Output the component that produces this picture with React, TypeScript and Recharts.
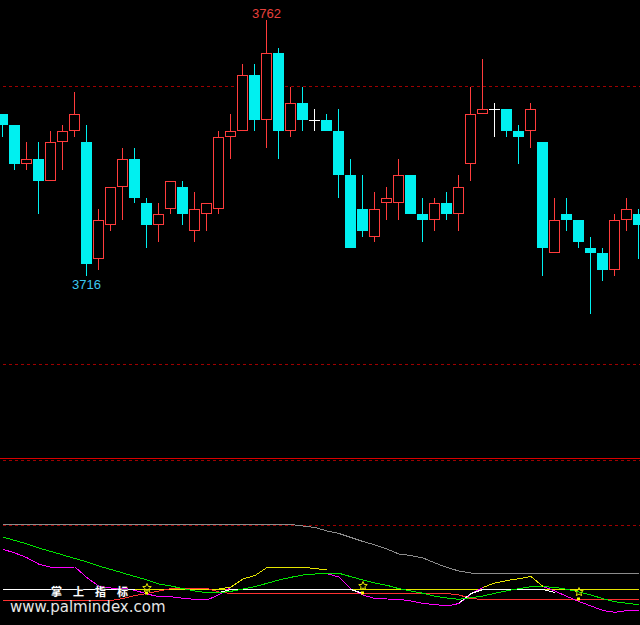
import React from 'react';
import { ComposedChart, Bar, Line, XAxis, YAxis, ReferenceLine } from 'recharts';

// ---------- Candles (price) ----------
const candleOpen = [
  3745, 3743, 3736, 3737, 3733, 3740, 3742, 3740, 3719, 3725,
  3732, 3737, 3729, 3725, 3728, 3732, 3724, 3727, 3728, 3741,
  3742, 3752, 3744, 3756, 3742, 3747, 3744, 3744, 3742, 3734,
  3728, 3723, 3729, 3729, 3734, 3727, 3726, 3729, 3727, 3736,
  3745, 3746, 3746, 3742, 3742, 3740, 3720, 3727, 3726, 3721,
  3720, 3717, 3726, 3727,
];
const candleHigh = [
  3745, 3743, 3740, 3740, 3742, 3743, 3749, 3743, 3728, 3732,
  3739, 3739, 3730, 3729, 3733, 3733, 3731, 3729, 3742, 3745,
  3754, 3754, 3762, 3757, 3750, 3750, 3746, 3745, 3746, 3737,
  3734, 3731, 3732, 3737, 3734, 3730, 3730, 3731, 3734, 3750,
  3755, 3747, 3746, 3743, 3747, 3740, 3730, 3730, 3726, 3723,
  3721, 3727, 3730, 3728,
];
const candleLow = [
  3741, 3735, 3735, 3727, 3733, 3735, 3741, 3716, 3717, 3724,
  3726, 3729, 3721, 3722, 3727, 3725, 3722, 3724, 3727, 3737,
  3742, 3742, 3739, 3737, 3741, 3742, 3742, 3742, 3730, 3721,
  3723, 3722, 3726, 3726, 3727, 3722, 3724, 3726, 3724, 3733,
  3745, 3741, 3741, 3736, 3739, 3716, 3720, 3724, 3721, 3709,
  3715, 3716, 3724, 3719,
];
const candleClose = [
  3743, 3736, 3737, 3733, 3740, 3742, 3745, 3718, 3726, 3732,
  3737, 3730, 3725, 3727, 3733, 3727, 3728, 3729, 3741, 3742,
  3752, 3744, 3756, 3742, 3747, 3744, 3744, 3742, 3734, 3721,
  3724, 3728, 3730, 3734, 3727, 3726, 3729, 3727, 3732, 3745,
  3746, 3746, 3742, 3741, 3746, 3721, 3726, 3726, 3722, 3720,
  3717, 3726, 3728, 3725,
];
const HIGH_MARK_INDEX = 22;
const LOW_MARK_INDEX = 7;
const priceLevels = [3750, 3700];

// ---------- Indicator panel ----------
const N = null;
const grayLine = [
  100.5, 100.5, 100.5, 100.5, 100.5, 100.5, 100.5, 100.5, 100.5, 100.5,
  100.5, 100.5, 100.5, 100.5, 100.5, 100.5, 100.5, 100.5, 100.5, 100.5,
  100.5, 100.5, 100.5, 100.5, 100.5, 99, 97.5, 94, 91.5, 87.5,
  83.5, 80, 76, 71, 69.5, 67, 62, 57.5, 54, 52,
  52, 52, 52, 52, 52, 52, 52, 52, 52, 52,
  52, 52, 52, 52,
];
const greenLine = [
  88, 84.5, 81, 77, 73.5, 70, 66.5, 63, 59, 55.5,
  52, 48.5, 45, 41, 39, 36.3, 34, 32.3, 32.3, 33.7,
  36, 38.3, 41.7, 45, 47.7, 50, 51, 51.7, 51.7, 48.3,
  45, 42, 39.7, 36.3, 34, 31.7, 28.7, 27, 25.7, 27.3,
  29, 31.7, 34.3, 36.3, 38.3, 38.3, 37.7, 35.7, 33, 30,
  26.3, 23.3, 21.7, 20.3,
];
const magentaLine = [
  75.7, 72, 67.3, 60.7, 57.7, 57.7, 58, 47.3, 38.7, 37,
  37, 34.7, 31, 28.3, 28.3, 26.7, 25.7, 25, 30.3, 38,
  N, N, N, N, N, N, N, 51.3, 48, 36,
  30, 26.5, 26, 25.7, 24, 21.5, 20.5, 19, 21.5, 31,
  37.7, N, N, N, N, 38.5, 34, 28.5, 23.5, 19,
  14.5, 12.7, 14.5, 15,
];
const yellowCurve = [
  N, N, N, N, N, N, N, N, N, N,
  N, N, N, N, N, N, N, N, 36, 38,
  46, 49.5, 57.5, 57.7, 57.7, 57.7, 56.5, 55, N, N,
  N, N, N, N, N, N, N, N, N, N,
  37.7, 42, 44.5, 46.3, 48.5, 38.5, N, N, N, N,
  N, N, N, N,
];
const whiteLine = [
  35.5, 35.5, 35.5, 35.5, 35.5, 35.5, 35.5, 35.5, 35.5, 35.5,
  35.5, 35.5, N, N, N, N, N, N, 32.5, 35.5,
  35.5, 35.5, 35.5, 35.5, 35.5, 35.5, 35.5, 35.5, 35.5, 35.5,
  31.5, N, N, N, N, N, N, N, 22, 31.5,
  35.5, 35.5, 35.5, 35.5, 35.5, 35.5, 32.5, N, N, N,
  N, N, N, N,
];
const yellowLevel = [
  N, N, N, N, N, N, N, N, N, N,
  N, 35.5, 35.5, 35.5, 35.5, 35.5, 35.5, 35.5, 35.5, 35.5,
  35.5, 35.5, 35.5, 35.5, 35.5, 35.5, 35.5, 35.5, 35.5, 35.5,
  35.5, 35.5, 35.5, 35.5, 35.5, 35.5, 35.5, 35.5, 35.5, 35.5,
  35.5, 35.5, 35.5, 35.5, 35.5, 35.5, 35.5, 35.5, 35.5, 35.5,
  35.5, 35.5, 35.5, 35.5,
];
const redStep = [
  24.5, 24.5, 24.5, 24.5, 24.5, 24.5, 24.5, 24.5, 24.5, 24.5,
  26.5, 29.5, 31.5, 34, 36.5, 36.5, 36.5, 36.5, 33, 31.5,
  31.5, 31.5, 31.5, 31.5, 31.5, 31.5, 31.5, 31.5, 31.5, 31.5,
  31.5, 31.5, 31.5, 31.5, 31.5, 31.5, 31.5, 31.5, 30, 26.5,
  25.5, 25.5, 25.5, 25.5, 25.5, 25.5, 25.5, 25.5, 25.5, 25.5,
  25.5, 25.5, 25.5, 25.5,
];
const starIndex = [12, 30, 48];
const starValue = [37, 39, 33];
const indicatorLevels = [166.5, 164.5, 99.5];

// ---------- Tables ----------
const candles = candleOpen.map((o, i) => ({
  idx: i,
  open: o,
  high: candleHigh[i],
  low: candleLow[i],
  close: candleClose[i],
  range: [candleLow[i], candleHigh[i]],
}));

const indicatorRows = grayLine.map((g, i) => {
  const s = starIndex.indexOf(i);
  return {
    idx: i,
    gray: g,
    green: greenLine[i],
    magenta: magentaLine[i],
    yellow: yellowCurve[i],
    white: whiteLine[i],
    level: yellowLevel[i],
    red: redStep[i],
    star: s >= 0 ? starValue[s] : null,
    starBase: s >= 0 ? redStep[i] : null,
  };
});

const CYAN = '#00F0F0';
const RED = '#FF3C3C';

const CandleShape = (props: any) => {
  const { x, y, width, height, payload, index } = props;
  if (payload == null || x == null) return null;
  const { open, close, high, low } = payload;
  const k = height / (high - low);
  const yOf = (v: number) => y + (high - v) * k;
  const cx = Math.round(x + width / 2) - 0.5;
  const yH = Math.round(yOf(high));
  const yL = Math.round(yOf(low));
  const top = Math.round(yOf(Math.max(open, close)));
  const bot = Math.round(yOf(Math.min(open, close)));
  let body: React.ReactNode;
  if (open === close) {
    body = (
      <g>
        <line x1={cx} x2={cx} y1={yH} y2={yL} stroke="#FFFFFF" strokeWidth={1} />
        <line x1={cx - 5.5} x2={cx + 5.5} y1={top + 0.5} y2={top + 0.5} stroke="#FFFFFF" strokeWidth={1} />
      </g>
    );
  } else if (close < open) {
    body = (
      <g>
        <line x1={cx} x2={cx} y1={yH} y2={yL} stroke={CYAN} strokeWidth={1} />
        <rect x={cx - 5.5} y={top} width={11} height={Math.max(1, bot - top)} fill={CYAN} />
      </g>
    );
  } else {
    body = (
      <g>
        {yH < top && <line x1={cx} x2={cx} y1={yH} y2={top} stroke={RED} strokeWidth={1} />}
        {yL > bot && <line x1={cx} x2={cx} y1={bot} y2={yL} stroke={RED} strokeWidth={1} />}
        <rect x={cx - 5} y={top + 0.5} width={10} height={Math.max(1, bot - top - 1)} fill="#000" stroke={RED} strokeWidth={1} />
      </g>
    );
  }
  return (
    <g>
      {body}
      {index === HIGH_MARK_INDEX && (
        <text x={cx} y={yH - 2} textAnchor="middle" fontSize={13} fontFamily="Liberation Sans, Arial, sans-serif" fill="#E8403C">
          {String(high)}
        </text>
      )}
      {index === LOW_MARK_INDEX && (
        <text x={cx} y={yL + 13} textAnchor="middle" fontSize={13} fontFamily="Liberation Sans, Arial, sans-serif" fill="#3CC8F0">
          {String(low)}
        </text>
      )}
    </g>
  );
};

const StarDot = (p: any) => {
  const { cx, cy, index, payload } = p;
  if (cx == null || cy == null || payload == null || payload.star == null) return <g key={`s${index}`} />;
  const pts: string[] = [];
  for (let j = 0; j < 10; j++) {
    const r = j % 2 === 0 ? 4.5 : 2;
    const a = -Math.PI / 2 + (j * Math.PI) / 5;
    pts.push(`${(cx + r * Math.cos(a)).toFixed(2)},${(cy + r * Math.sin(a)).toFixed(2)}`);
  }
  return (
    <g key={`s${index}`}>
      <polygon points={pts.join(' ')} fill="none" stroke="#E6E600" strokeWidth={1} />
    </g>
  );
};

const BaseDot = (p: any) => {
  const { cx, cy, index, payload } = p;
  if (cx == null || cy == null || payload == null || payload.starBase == null) return <g key={`b${index}`} />;
  return <rect key={`b${index}`} x={cx - 2} y={cy - 2} width={3} height={3} fill="#FFFF00" />;
};

const PRICE_MIN = 3683.18;
const PRICE_MAX = 3765.56;

const lineCommon = {
  strokeWidth: 1,
  dot: false,
  activeDot: false,
  isAnimationActive: false,
  shapeRendering: 'crispEdges',
} as any;

export default function App() {
  return (
    <div style={{ position: 'relative', width: 640, height: 625, background: '#000', overflow: 'hidden' }}>
      <style>{`body{margin:0;background:#000;}`}</style>
      <div style={{ position: 'absolute', left: -3, top: 0 }}>
        <ComposedChart
          width={648}
          height={458}
          data={candles}
          margin={{ top: 0, right: 0, bottom: 0, left: 0 }}
          barCategoryGap={0}
          barGap={0}
        >
          <XAxis dataKey="idx" hide />
          <YAxis hide domain={[PRICE_MIN, PRICE_MAX]} allowDataOverflow />
          {priceLevels.map((lv) => (
            <ReferenceLine key={lv} y={lv} stroke="#A00000" strokeWidth={1} strokeDasharray="3 3" {...({ zIndex: -10 } as any)} />
          ))}
          <Bar dataKey="range" shape={(p: any) => <CandleShape {...p} />} isAnimationActive={false} />
        </ComposedChart>
      </div>
      <div style={{ position: 'absolute', left: -3, top: 456 }}>
        <ComposedChart
          width={648}
          height={169}
          data={indicatorRows}
          margin={{ top: 0, right: 0, bottom: 0, left: 0 }}
        >
          <XAxis type="number" dataKey="idx" domain={[-0.5, 53.5]} hide allowDataOverflow />
          <YAxis hide domain={[0, 169]} allowDataOverflow />
          <ReferenceLine y={indicatorLevels[0]} stroke="#D80000" strokeWidth={1} />
          <ReferenceLine y={indicatorLevels[1]} stroke="#A00000" strokeWidth={1} strokeDasharray="3 3" />
          <ReferenceLine y={indicatorLevels[2]} stroke="#A00000" strokeWidth={1} strokeDasharray="3 3" />
          <Line dataKey="gray" stroke="#8C8C8C" {...lineCommon} />
          <Line dataKey="level" stroke="#E6E600" {...lineCommon} />
          <Line dataKey="red" stroke="#FF3232" {...lineCommon} />
          <Line dataKey="magenta" stroke="#FF00FF" {...lineCommon} />
          <Line dataKey="white" stroke="#FFFFFF" {...lineCommon} />
          <Line dataKey="green" stroke="#00E600" {...lineCommon} />
          <Line dataKey="yellow" stroke="#E6E600" {...lineCommon} />
          <Line dataKey="starBase" stroke="none" dot={BaseDot} activeDot={false} isAnimationActive={false} />
          <Line dataKey="star" stroke="none" dot={StarDot} activeDot={false} isAnimationActive={false} />
        </ComposedChart>
      </div>
      <svg width={640} height={625} style={{ position: 'absolute', left: 0, top: 0, pointerEvents: 'none' }}>
        <text x={51} y={596} fontSize={11} fontWeight="bold" letterSpacing={11} fill="#FFFFFF"
          fontFamily="Noto Sans CJK SC, sans-serif" stroke="#303030" strokeWidth={0.6} paintOrder="stroke">
          掌上指标
        </text>
        <text x={10} y={612} fontSize={15} fill="#E6E6E6" fontFamily="DejaVu Sans, sans-serif">
          www.palmindex.com
        </text>
      </svg>
    </div>
  );
}
